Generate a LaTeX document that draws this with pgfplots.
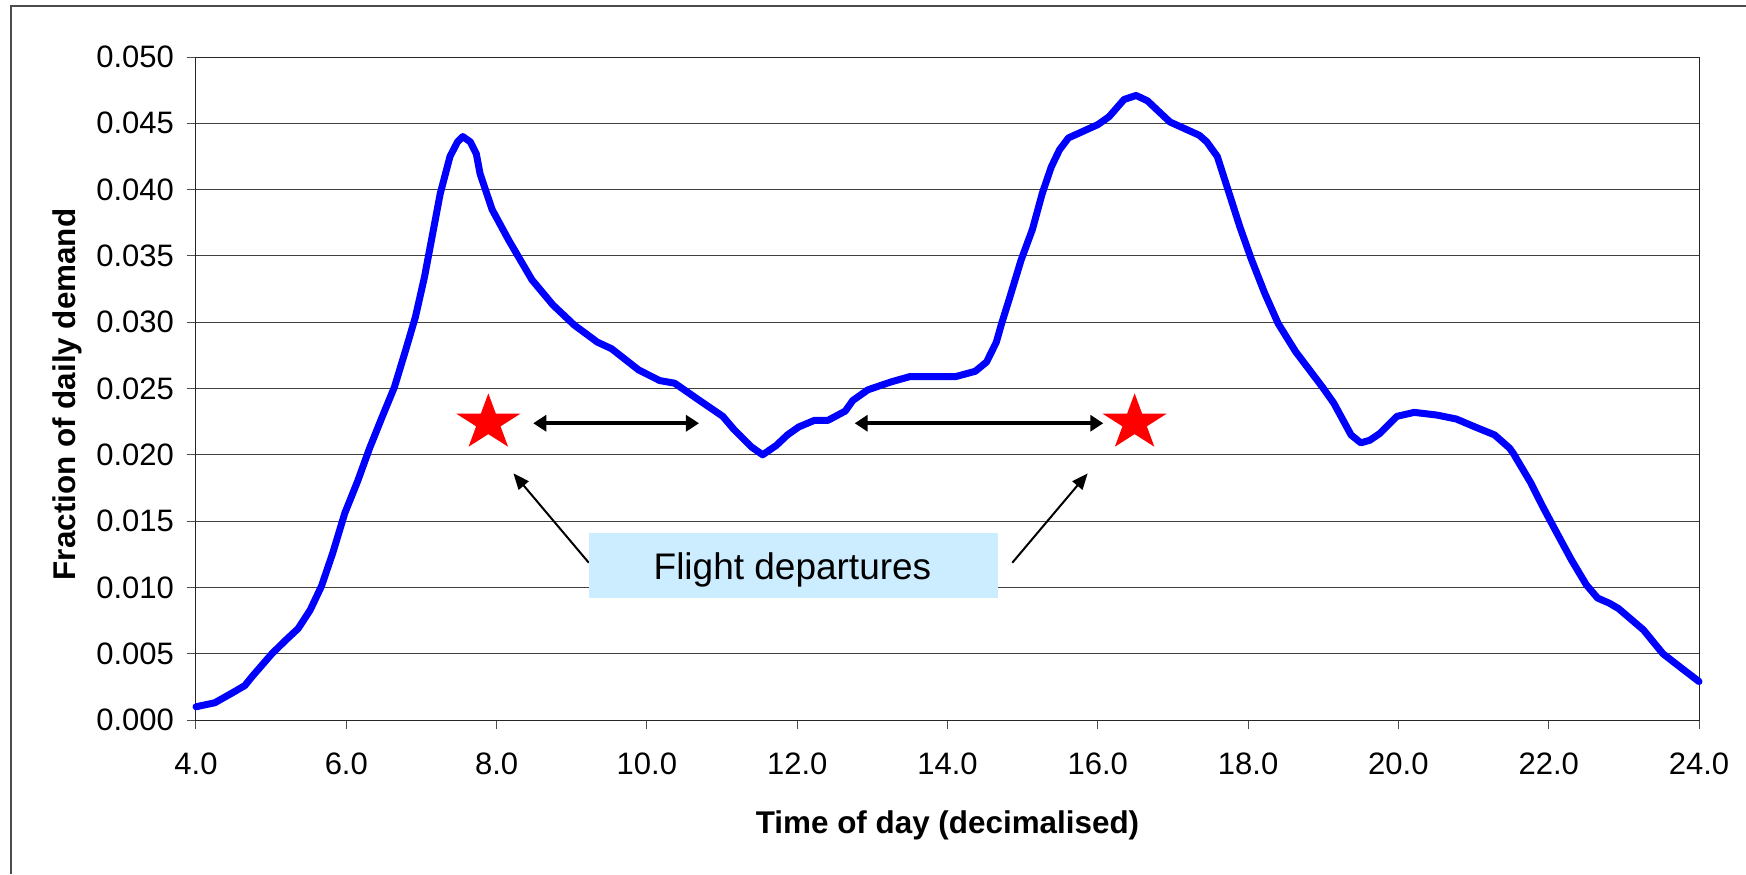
\documentclass[border=0pt]{standalone}
\usepackage{fontspec}
\setmainfont{Liberation Sans}
\usepackage{pgfplots}
\pgfplotsset{compat=1.18}
\usetikzlibrary{arrows.meta}
\definecolor{boxblue}{RGB}{204,236,255}
\definecolor{curveblue}{RGB}{0,0,255}
\pgfdeclareplotmark{xlstar}{%
  \pgfpathmoveto{\pgfqpoint{0pt}{14.75pt}}%
  \pgfpathlineto{\pgfqpoint{-3.774pt}{4.555pt}}%
  \pgfpathlineto{\pgfqpoint{-15.98pt}{4.56pt}}%
  \pgfpathlineto{\pgfqpoint{-6.106pt}{-1.74pt}}%
  \pgfpathlineto{\pgfqpoint{-9.875pt}{-11.93pt}}%
  \pgfpathlineto{\pgfqpoint{0pt}{-5.63pt}}%
  \pgfpathlineto{\pgfqpoint{9.875pt}{-11.93pt}}%
  \pgfpathlineto{\pgfqpoint{6.106pt}{-1.74pt}}%
  \pgfpathlineto{\pgfqpoint{15.98pt}{4.56pt}}%
  \pgfpathlineto{\pgfqpoint{3.774pt}{4.555pt}}%
  \pgfpathclose
  \pgfusepathqfill}
\begin{document}
\begin{tikzpicture}[x=1pt,y=1pt]
\begin{axis}[
  at={(98pt,-360pt)}, anchor=south west,
  width=751.5pt, height=331.5pt, scale only axis,
  xmin=4, xmax=24, ymin=0, ymax=0.05,
  xtick={4,6,8,10,12,14,16,18,20,22,24},
  ytick={0,0.005,0.010,0.015,0.020,0.025,0.030,0.035,0.040,0.045,0.050},
  scaled x ticks=false, scaled y ticks=false,
  xtick pos=bottom, ytick pos=left,
  tick align=outside, major tick length=4.5pt,
  tick style={black!70, line width=0.5pt},
  axis line style={black!85, line width=0.5pt},
  ymajorgrids, major grid style={black!75, line width=0.5pt},
  /pgf/number format/assume math mode=true,
  tick label style={font=\fontsize{15.5}{18}\selectfont, text=black},
  x tick label style={yshift=-8.5pt, /pgf/number format/.cd, fixed, fixed zerofill, precision=1, /tikz/.cd},
  y tick label style={xshift=-3pt, /pgf/number format/.cd, fixed, fixed zerofill, precision=3, /tikz/.cd},
  xlabel={Time of day (decimalised)},
  ylabel={Fraction of daily demand},
  label style={font=\fontsize{15.7}{18}\selectfont\bfseries},
  xlabel style={at={(axis description cs:0.5,-0.1709)}, anchor=base},
  ylabel style={at={(axis description cs:-0.0805,0.491)}, anchor=base, rotate=0},
  clip=false,
]
\addplot[curveblue, line width=3.5pt, line join=round, line cap=round] coordinates {
(4.00,0.0010) (4.25,0.0013) (4.50,0.0021) (4.65,0.0026) (4.75,0.0033)
(5.01,0.0050) (5.19,0.0060) (5.36,0.0069) (5.52,0.0083) (5.67,0.0101)
(5.82,0.0126) (5.98,0.0156) (6.15,0.0180) (6.31,0.0205) (6.48,0.0229)
(6.64,0.0251) (6.79,0.0279) (6.92,0.0304) (7.04,0.0334) (7.15,0.0367)
(7.25,0.0397) (7.38,0.0425) (7.48,0.0436) (7.55,0.0440) (7.65,0.0436)
(7.73,0.0427) (7.78,0.0412) (7.94,0.0385) (8.16,0.0362) (8.47,0.0332)
(8.75,0.0313) (9.03,0.0298) (9.34,0.0285) (9.53,0.0280) (9.89,0.0264)
(10.17,0.0256) (10.37,0.0254) (10.70,0.0241) (11.01,0.0229) (11.16,0.0219)
(11.39,0.0206) (11.54,0.0200) (11.72,0.0207) (11.87,0.0215) (12.02,0.0221)
(12.23,0.0226) (12.41,0.0226) (12.64,0.0233) (12.74,0.0241) (12.94,0.0249)
(13.25,0.0255) (13.50,0.0259) (14.11,0.0259) (14.37,0.0263) (14.52,0.0270)
(14.65,0.0285) (14.72,0.0299) (14.83,0.0319) (14.98,0.0347) (15.13,0.0370)
(15.26,0.0397) (15.38,0.0417) (15.49,0.0430) (15.61,0.0439) (16.00,0.0449)
(16.15,0.0455) (16.35,0.0468) (16.51,0.0471) (16.66,0.0467) (16.96,0.0451)
(17.35,0.0441) (17.45,0.0436) (17.59,0.0425) (17.76,0.0395) (17.89,0.0372)
(18.04,0.0348) (18.22,0.0322) (18.40,0.0299) (18.63,0.0278) (18.99,0.0251)
(19.14,0.0239) (19.37,0.0215) (19.50,0.0209) (19.62,0.0211) (19.75,0.0216)
(19.98,0.0229) (20.21,0.0232) (20.51,0.0230) (20.77,0.0227) (21.02,0.0221)
(21.28,0.0215) (21.48,0.0205) (21.53,0.0201) (21.76,0.0179) (21.92,0.0161)
(22.09,0.0143) (22.30,0.0121) (22.50,0.0102) (22.65,0.0092) (22.81,0.0088)
(22.93,0.0084) (23.26,0.0068) (23.52,0.0050) (23.77,0.0039) (24.00,0.0029)
};
\addplot[only marks, mark=xlstar, color=red, mark options={fill=red, draw=none}] coordinates {
(7.89,0.02241) (16.49,0.02241)
};
% annotations
\draw[black, line width=2pt, {Triangle[length=6.5pt,width=8pt]}-{Triangle[length=6.5pt,width=8pt]}]
  (axis cs:8.488,0.02238) -- (axis cs:10.693,0.02238);
\draw[black, line width=2pt, {Triangle[length=6.5pt,width=8pt]}-{Triangle[length=6.5pt,width=8pt]}]
  (axis cs:12.765,0.02238) -- (axis cs:16.073,0.02238);
\draw[black, line width=1pt, -{Triangle[length=8pt,width=6.5pt]}]
  (axis cs:9.227,0.01186) -- (axis cs:8.224,0.01860);
\draw[black, line width=1pt, -{Triangle[length=8pt,width=6.5pt]}]
  (axis cs:14.862,0.01186) -- (axis cs:15.865,0.01860);
\fill[boxblue] (axis cs:9.227,0.01408) rectangle (axis cs:14.668,0.00922);
\node[anchor=base, inner sep=0pt, font=\fontsize{18.5}{22}\selectfont] at (axis cs:11.937,0.01061) {Flight departures};
\end{axis}
\draw[black!70, line width=1pt] (5.5pt,-437pt) -- (5.5pt,-3pt) -- (873pt,-3pt);
\pgfresetboundingbox
\path (0pt,0pt) rectangle (873pt,-437pt);
\end{tikzpicture}
\end{document}
